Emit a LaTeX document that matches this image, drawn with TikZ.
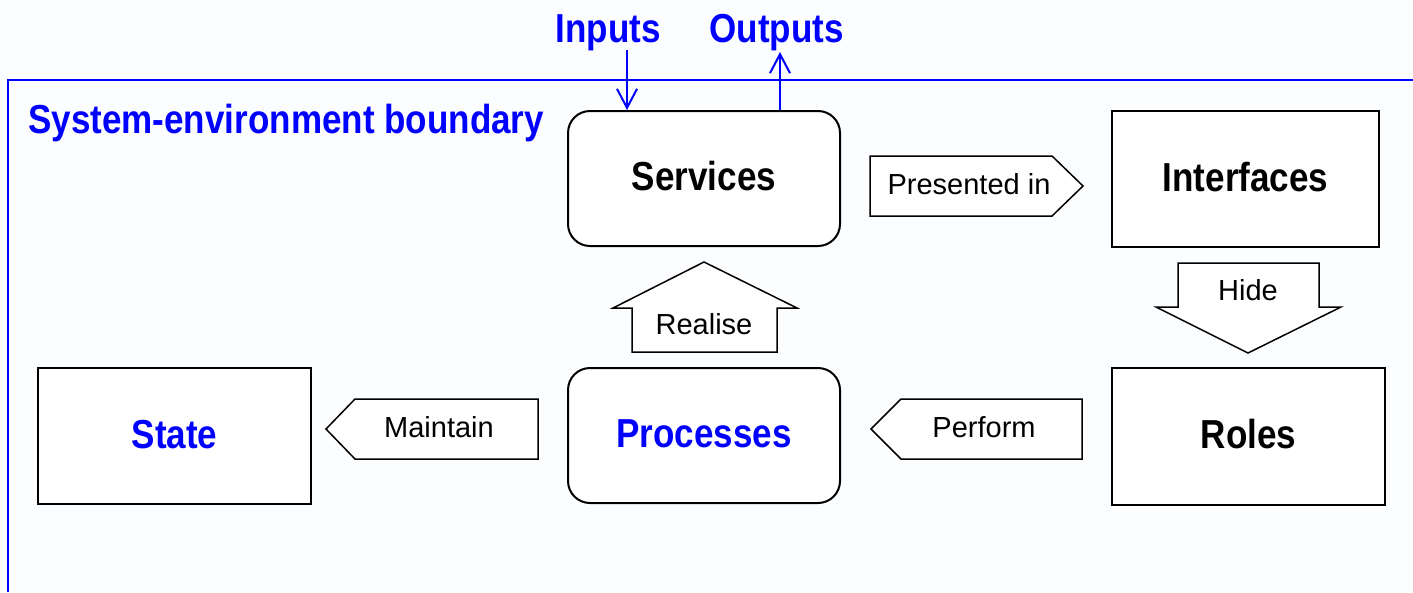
\documentclass[tikz,border=0pt]{standalone}
\usepackage{fontspec}
\setmainfont{Liberation Sans}
\newfontfamily\condsf[FakeStretch=0.865]{Liberation Sans}
\usetikzlibrary{arrows.meta}
\definecolor{bgtint}{RGB}{252,253,255}
\definecolor{boundblue}{RGB}{0,0,255}

\begin{document}
\begin{tikzpicture}[x=1pt,y=-1pt,
  titletext/.style={font=\condsf\bfseries\fontsize{40.5}{44}\selectfont, inner sep=0pt},
  bluetitle/.style={titletext,text=boundblue},
  boxbase/.style={draw=black,line width=2pt,fill=white,inner sep=0pt,titletext,
    text height=29pt,text depth=5pt},
  roundbox/.style={boxbase,rounded corners=22pt},
  blockarrow/.style={draw=black,line width=1.5pt,fill=white,line join=miter},
  arrowlabel/.style={font=\fontsize{29}{32}\selectfont, inner sep=0pt},
  flow/.style={draw=boundblue,line width=2pt,-{Straight Barb[length=19pt,width=20pt,line width=2pt]}}
]
% canvas
\fill[bgtint] (0,0) rectangle (1413,592);
\useasboundingbox (0,0) rectangle (1413,592);

% system-environment boundary
\draw[boundblue,line width=2pt] (1413,80) -- (8,80) -- (8,592);
\node[bluetitle,anchor=base west] (boundary) at (28,133) {System-environment boundary};

% main elements
\node[roundbox,minimum width=272pt,minimum height=135pt] (services) at (704,178.5) {Services};
\node[boxbase,minimum width=267pt,minimum height=136pt] (interfaces) at (1245.5,179) {Interfaces};
\node[roundbox,minimum width=272pt,minimum height=135pt,text=boundblue] (processes) at (704,435.5) {Processes};
\node[boxbase,minimum width=273pt,minimum height=137pt] (roles) at (1248.5,436.5) {Roles};
\node[boxbase,minimum width=273pt,minimum height=136pt,text=boundblue] (state) at (174.5,436) {State};

% inputs and outputs across the boundary
\node[bluetitle,anchor=base] (inputs) at (608,42) {Inputs};
\node[bluetitle,anchor=base] (outputs) at (776.5,42) {Outputs};
\coordinate (intail) at (627,50);
\coordinate (outtip) at (780,52);
\draw[flow] (intail) -- (intail |- services.north);
\draw[flow] (outtip |- services.north) -- (outtip);

% block arrows between the elements
\draw[blockarrow] (870,156) -- (1052,156) -- (1083,186) -- (1052,216) -- (870,216) -- cycle;
\node[arrowlabel] (presented) at (969,184) {Presented in};

\draw[blockarrow] (632,352) -- (632,308) -- (613,308) -- (704,262) -- (797,308) -- (777,308) -- (777,352) -- cycle;
\node[arrowlabel] (realise) at (704,324) {Realise};

\draw[blockarrow] (1178,263) -- (1319,263) -- (1319,307) -- (1341,307) -- (1248,353) -- (1156,307) -- (1178,307) -- cycle;
\node[arrowlabel] (hide) at (1248,290) {Hide};

\draw[blockarrow] (538,399) -- (538,459) -- (355,459) -- (326,429) -- (355,399) -- cycle;
\node[arrowlabel] (maintain) at (439,427) {Maintain};

\draw[blockarrow] (1082,399) -- (1082,459) -- (901,459) -- (871,429) -- (901,399) -- cycle;
\node[arrowlabel] (perform) at (984,427) {Perform};
\end{tikzpicture}
\end{document}
